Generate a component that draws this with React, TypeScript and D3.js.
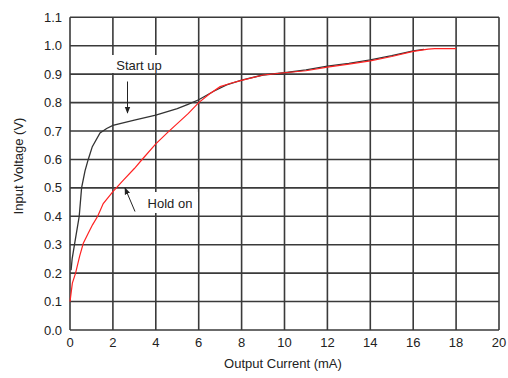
import React from "react";
import * as d3 from "d3";

const xTicks = [0, 2, 4, 6, 8, 10, 12, 14, 16, 18, 20];
const yTicks = [0.0, 0.1, 0.2, 0.3, 0.4, 0.5, 0.6, 0.7, 0.8, 0.9, 1.0, 1.1];

const startUpX = [0.05, 0.1, 0.23, 0.43, 0.54, 0.7, 0.85, 1.04, 1.4, 1.71, 2.0, 3.0, 4.0, 5.0, 5.5, 6.0, 6.7, 7.3, 8.0, 9.0, 10.0, 11.0, 12.0, 13.0, 14.0, 15.0, 16.0, 16.5];
const startUpY = [0.21, 0.25, 0.31, 0.40, 0.50, 0.56, 0.60, 0.645, 0.693, 0.709, 0.72, 0.738, 0.756, 0.779, 0.794, 0.81, 0.84, 0.862, 0.879, 0.897, 0.905, 0.915, 0.928, 0.938, 0.95, 0.965, 0.982, 0.987];

const holdOnX = [0, 0.11, 0.26, 0.45, 0.62, 0.85, 1.05, 1.29, 1.55, 2.0, 2.5, 3.0, 3.34, 4.0, 4.58, 5.0, 5.52, 6.0, 6.5, 7.0, 7.5, 8.0, 9.0, 10.0, 11.0, 12.0, 13.0, 14.0, 15.0, 16.0, 16.7, 17.0, 18.0];
const holdOnY = [0.10, 0.165, 0.20, 0.26, 0.305, 0.34, 0.37, 0.40, 0.445, 0.487, 0.528, 0.568, 0.598, 0.655, 0.697, 0.726, 0.762, 0.80, 0.83, 0.856, 0.868, 0.878, 0.897, 0.905, 0.912, 0.925, 0.935, 0.947, 0.962, 0.98, 0.988, 0.99, 0.99];

const W = 508;
const H = 378;
const FONT = "'Liberation Sans', Arial, sans-serif";

export default function App() {
  const x = d3.scaleLinear().domain([0, 20]).range([70, 499]);
  const y = d3.scaleLinear().domain([0, 1.1]).range([330, 17.3]);

  const line = d3
    .line<[number, number]>()
    .x((d) => x(d[0]))
    .y((d) => y(d[1]));

  const startPts = startUpX.map((v, i) => [v, startUpY[i]] as [number, number]);
  const holdPts = holdOnX.map((v, i) => [v, holdOnY[i]] as [number, number]);

  const gridColor = "#3a3a3a";

  return (
    <div style={{ position: "fixed", left: 0, top: 0 }}>
      <svg width={W} height={H} style={{ display: "block", background: "#fff" }}>
        <defs>
          <marker id="ah" viewBox="0 0 10 10" refX="9" refY="5" markerWidth="7" markerHeight="7" orient="auto" markerUnits="userSpaceOnUse">
            <path d="M0,1 L10,5 L0,9 Z" fill="#222" />
          </marker>
        </defs>
        {xTicks.map((t) => (
          <line key={"gx" + t} x1={x(t)} x2={x(t)} y1={y(0)} y2={y(1.1)} stroke={gridColor} strokeWidth={1.6} />
        ))}
        {yTicks.map((t) => (
          <line key={"gy" + t} x1={x(0)} x2={x(20)} y1={y(t)} y2={y(t)} stroke={gridColor} strokeWidth={1.6} />
        ))}
        {xTicks.map((t) => (
          <text key={"tx" + t} x={x(t)} y={347} textAnchor="middle" fontFamily={FONT} fontSize={13} fill="#222">
            {t}
          </text>
        ))}
        {yTicks.map((t) => (
          <text key={"ty" + t} x={62} y={y(t)} dy="0.35em" textAnchor="end" fontFamily={FONT} fontSize={13} fill="#222">
            {t.toFixed(1)}
          </text>
        ))}
        <text x={283} y={368} textAnchor="middle" fontFamily={FONT} fontSize={13} fill="#222">
          Output Current (mA)
        </text>
        <text transform={`translate(23,166) rotate(-90)`} textAnchor="middle" fontFamily={FONT} fontSize={13} fill="#222">
          Input Voltage (V)
        </text>
        <path d={line(startPts) || ""} fill="none" stroke="#333" strokeWidth={1.3} />
        <path d={line(holdPts) || ""} fill="none" stroke="#f22" strokeWidth={1.2} />
        <rect x={112} y={55} width={53} height={18} fill="#fff" />
        <text x={139} y={70} textAnchor="middle" fontFamily={FONT} fontSize={13} fill="#222">
          Start up
        </text>
        <line x1={127.5} y1={81.5} x2={127.5} y2={113} stroke="#222" strokeWidth={1} markerEnd="url(#ah)" />
        <rect x={143} y={192} width={55} height={21} fill="#fff" />
        <text x={170} y={207.5} textAnchor="middle" fontFamily={FONT} fontSize={13} fill="#222">
          Hold on
        </text>
        <line x1={135} y1={211.5} x2={125} y2={188} stroke="#222" strokeWidth={1} markerEnd="url(#ah)" />
      </svg>
    </div>
  );
}
